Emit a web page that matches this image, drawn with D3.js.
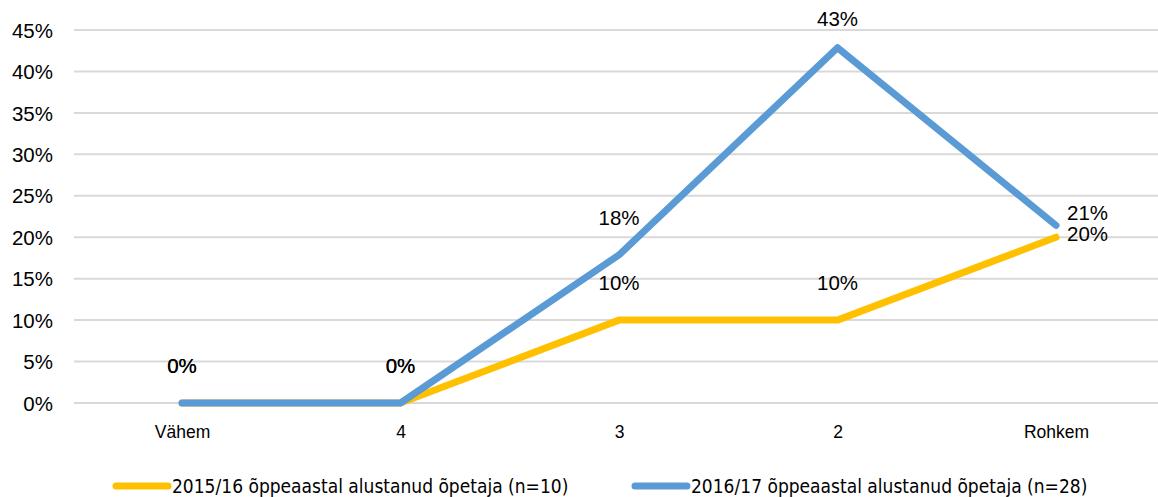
<!DOCTYPE html>
<html><head><meta charset="utf-8">
<script src="https://cdn.jsdelivr.net/npm/d3@7"></script>
<style>body{margin:0;background:#fff}svg{display:block}</style>
</head><body><svg id="c" width="1158" height="497"></svg>
<script>
const categories = ["Vähem", "4", "3", "2", "Rohkem"];
const seriesNames = ["2015/16 õppeaastal alustanud õpetaja (n=10)", "2016/17 õppeaastal alustanud õpetaja (n=28)"];
const values2015 = [0, 0, 10, 10, 20];
const values2016 = [0, 0, 17.86, 42.86, 21.43];
const yTicks = [0, 5, 10, 15, 20, 25, 30, 35, 40, 45];
const colors = ["#FFC000", "#5B9BD5"];

const svg = d3.select("#c");
const font = "'Liberation Sans', Arial, sans-serif";
const x = d3.scalePoint().domain(categories).range([182, 1056]);
const y = d3.scaleLinear().domain([0, 45]).range([403, 30]);

// gridlines
svg.append("g").selectAll("line").data(yTicks).join("line")
  .attr("x1", 74).attr("x2", 1158)
  .attr("y1", d => y(d)).attr("y2", d => y(d))
  .attr("stroke", "#d9d9d9").attr("stroke-width", 2);

// y axis
const yAxis = d3.axisLeft(y).tickValues(yTicks).tickFormat(d => d + "%").tickSize(0).tickPadding(0);
const ga = svg.append("g").attr("transform", "translate(53,0)").call(yAxis);
ga.select(".domain").remove();
ga.selectAll("text").attr("font-family", font).attr("font-size", 20.5).attr("fill", "#000").attr("dy", "0.35em");

// x axis
const xAxis = d3.axisBottom(x).tickSize(0).tickPadding(0);
const gx = svg.append("g").attr("transform", "translate(0,426)").call(xAxis);
gx.select(".domain").remove();
gx.selectAll("text").attr("font-family", font).attr("font-size", 17.5).attr("fill", "#000").attr("dy", "0.71em");

const line = d3.line().x((d, i) => x(categories[i])).y(d => y(d));
const series = [values2015, values2016];
series.forEach((vals, si) => {
  svg.append("path").datum(vals).attr("d", line)
    .attr("fill", "none").attr("stroke", colors[si]).attr("stroke-width", 7)
    .attr("stroke-linecap", "round").attr("stroke-linejoin", "round");
});

// data labels
const fmt = v => Math.round(v) + "%";
function label(xp, yp, txt, anchor) {
  svg.append("text").attr("x", xp).attr("y", yp).attr("dy", "0.35em")
    .attr("text-anchor", anchor).attr("font-family", font).attr("font-size", 20.5)
    .attr("fill", "#000").text(txt);
}
series.forEach((vals, si) => {
  vals.forEach((v, i) => {
    const cx = x(categories[i]);
    if (i === categories.length - 1) {
      label(cx + 11, y(v) + (si === 1 ? -13 : -3), fmt(v), "start");
    } else {
      label(cx, Math.max(19, y(v) - 37), fmt(v), "middle");
    }
  });
});

// legend
const legendPos = [113, 632];
seriesNames.forEach((n, i) => {
  const lx = legendPos[i];
  svg.append("line").attr("x1", lx + 3).attr("x2", lx + 55).attr("y1", 486).attr("y2", 486)
    .attr("stroke", colors[i]).attr("stroke-width", 7).attr("stroke-linecap", "round");
  svg.append("text").attr("x", lx + 59).attr("y", 486).attr("dy", "0.35em")
    .attr("font-family", "'Liberation Sans Narrow', 'DejaVu Sans Condensed', sans-serif")
    .attr("font-size", 19).attr("fill", "#000").text(n);
});
</script></body></html>
